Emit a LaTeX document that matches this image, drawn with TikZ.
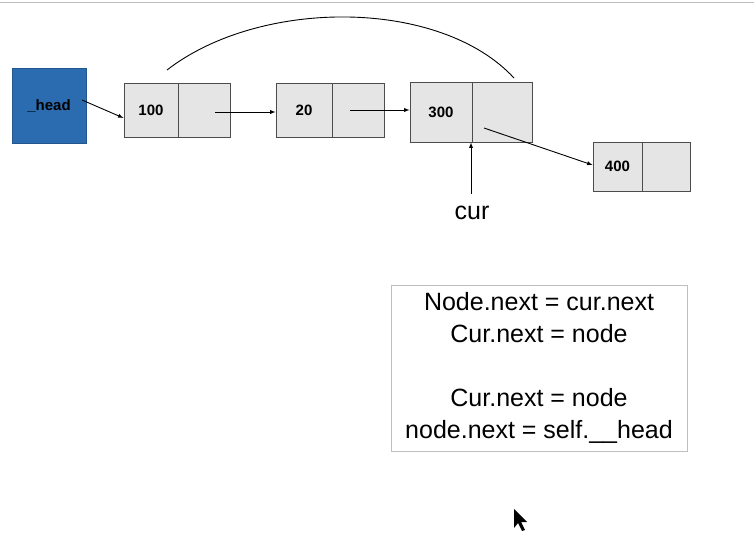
\documentclass[tikz,border=0pt]{standalone}
\usepackage{fontspec}
\setmainfont{Liberation Sans}
\definecolor{headblue}{HTML}{2B6CB0}
\begin{document}
\begin{tikzpicture}[x=1pt,y=-1pt,line width=0.9pt,
  cell/.style={draw=black!70,fill=black!10,minimum height=54pt,inner sep=0pt,font=\bfseries\fontsize{15}{17}\selectfont},
  ptr/.style={-latex}]
\useasboundingbox (0,0) rectangle (754,546);
\draw[black!25,thin] (0,2) -- (754,2);
\node[draw=headblue!80!black,fill=headblue,minimum width=74pt,minimum height=75pt,font=\bfseries\fontsize{15}{17}\selectfont] (head) at (49,105.5) {\_head};
\node[cell,minimum width=54pt] (a) at (151,110) {100};
\node[cell,minimum width=52pt] (ap) at (204,110) {};
\node[cell,minimum width=56pt] (b) at (304,110.5) {20};
\node[cell,minimum width=52pt] (bp) at (358,110.5) {};
\node[cell,minimum width=62pt,minimum height=60pt] (c) at (441,112) {300};
\node[cell,minimum width=60pt,minimum height=60pt] (cp) at (502,112) {};
\node[cell,minimum width=49pt,minimum height=49pt] (d) at (617.5,166.5) {400};
\node[cell,minimum width=48pt,minimum height=49pt] (dp) at (666,166.5) {};
\coordinate (hs) at (82,100);
\coordinate (as) at (215,112);
\coordinate (bs) at (350,110);
\coordinate (cs) at (484,128);
\coordinate (arcA) at (167,70);
\coordinate (arcB) at (514,78);
\draw[ptr] (hs) -- (a.west|-0,118);
\draw[ptr] (as) -- (b.west|-0,112);
\draw[ptr] (bs) -- (c.west|-0,110);
\draw[ptr] (cs) -- (d.west|-0,165);
\draw (arcA) .. controls (260,-2) and (440,-2) .. (arcB);
\node[font=\fontsize{25}{28}\selectfont] (cur) at (472,213) {cur};
\coordinate (cu) at (471,194);
\draw[ptr] (cu) -- (c.south-|cu);
\node[draw=black!25,thin,minimum width=296pt,minimum height=166pt,align=center,font=\fontsize{25}{32}\selectfont] (box) at (539,368) {Node.next = cur.next\\Cur.next = node\\[32pt]Cur.next = node\\node.next = self.\_\_head};
\fill (514,509) -- (514,528) -- (518,523) -- (522,531) -- (525,530) -- (521,522) -- (527,522) -- cycle;
\end{tikzpicture}
\end{document}
